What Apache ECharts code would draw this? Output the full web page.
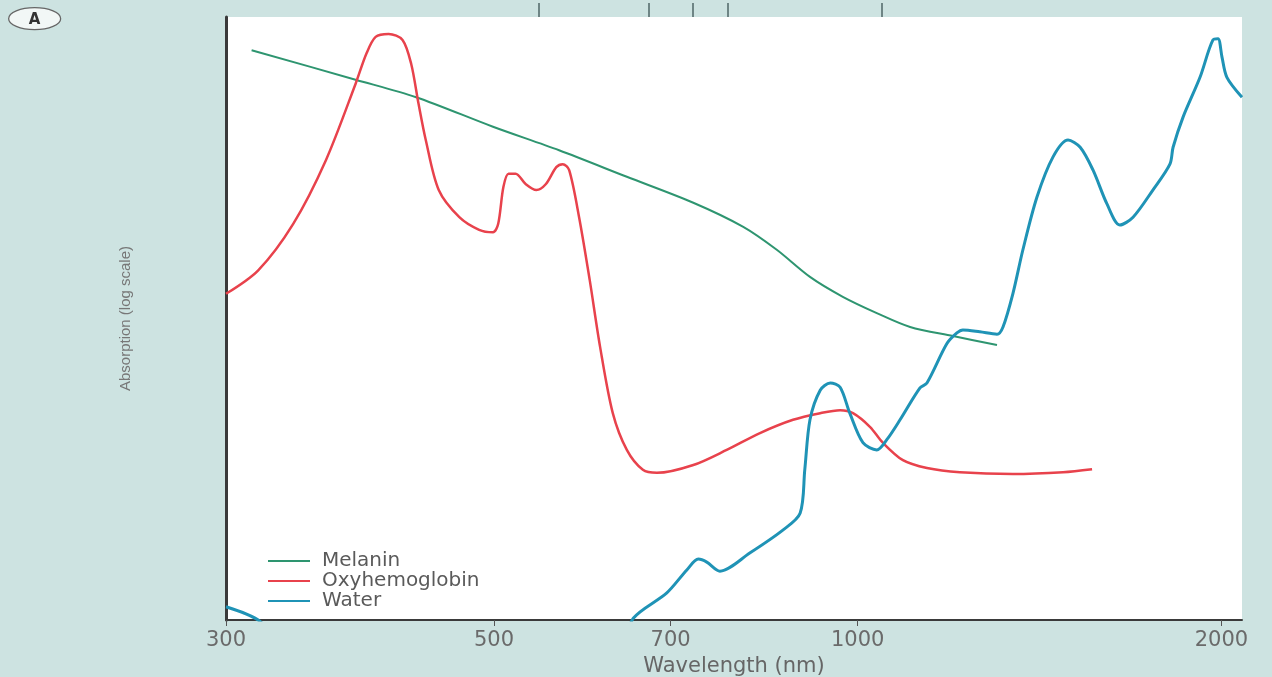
<!DOCTYPE html>
<html>
<head>
<meta charset="utf-8">
<script src="https://cdn.jsdelivr.net/npm/echarts@6.0.0/dist/echarts.min.js"></script>
<style>
  html, body { margin: 0; padding: 0; background: #cde3e1; }
  #chart { width: 1272px; height: 677px; }
</style>
</head>
<body>
<div id="chart"></div>
<script>
// wavelength (nm) tick labels on the bottom axis
var xTicks = [300, 500, 700, 1000, 2000];
// short marks along the top edge
var topMarks = [544, 672, 730, 781, 1047];

// absorption, relative units on a log scale (0 = bottom, 100 = top)
var melaninNm = [315, 384, 431, 499, 566, 644, 731, 804, 857, 913, 972, 1037, 1105, 1199, 1304];
var melaninAbs = [94.5, 89.6, 86.7, 81.8, 77.9, 73.5, 69.2, 65.2, 61.4, 56.9, 53.6, 50.9, 48.6, 47.1, 45.6];

var hemoNm = [300, 319, 341, 363, 384, 392, 399, 409, 420, 427, 433, 439, 450, 468, 486, 499, 504, 509,
  514, 521, 531, 542, 552, 563, 570, 577, 588, 600, 612, 627, 644, 664, 682, 731, 779, 830, 884, 931,
  967, 991, 1024, 1049, 1090, 1141, 1215, 1344, 1479, 1563];
var hemoAbs = [54.1, 58.0, 65.7, 76.3, 88.9, 93.9, 96.7, 97.2, 96.2, 92.2, 85.6, 79.6, 71.3, 66.8, 64.7, 64.3, 65.7, 71.8,
  74.0, 74.0, 72.3, 71.3, 72.3, 75.1, 75.6, 74.6, 66.8, 56.4, 45.3, 34.3, 28.2, 24.9, 24.4, 25.7, 28.2, 31.0, 33.2, 34.3,
  34.8, 34.3, 32.0, 29.4, 26.5, 25.2, 24.5, 24.2, 24.5, 25.0];

var waterNm = [300, 320, 340, 630, 652, 695, 722, 738, 750, 769, 814, 867, 896, 904, 913, 931, 949, 967, 985,
  1010, 1037, 1057, 1084, 1126, 1141, 1185, 1208, 1222, 1262, 1304, 1319, 1344, 1370, 1407, 1451, 1493, 1528,
  1566, 1608, 1648, 1690, 1755, 1813, 1824, 1859, 1920, 1968, 1987, 2002, 2021, 2080];
var waterAbs = [2.2, -0.2, -6, -6, 0.3, 4.5, 8.3, 10.1, 9.6, 8.1, 11.1, 14.9, 17.7, 24.9, 33.2, 38.1, 39.3, 38.6, 34.3,
  29.4, 28.2, 29.9, 33.2, 38.5, 39.3, 45.8, 47.6, 48.1, 47.8, 47.4, 48.6, 54.1, 61.4, 70.1, 76.8, 79.6, 78.4,
  74.6, 69.0, 65.5, 66.8, 71.3, 75.6, 78.4, 83.4, 90.0, 96.2, 96.4, 93.4, 90.0, 86.7];

function pairs(xs, ys) {
  return xs.map(function (x, i) { return [x, ys[i]]; });
}

var myChart = echarts.init(document.getElementById('chart'));
var option = {
  animation: false,
  backgroundColor: '#cde3e1',
  grid: {
    left: 226, right: 30, top: 17, bottom: 57,
    outerBoundsMode: 'none',
    show: true, backgroundColor: '#ffffff', borderWidth: 0
  },
  legend: {
    orient: 'vertical',
    left: 268,
    top: 551,
    padding: 0,
    icon: 'rect',
    itemWidth: 42,
    itemHeight: 2,
    itemGap: 0,
    textStyle: {
      color: '#5a5a5a',
      fontSize: 20,
      fontFamily: 'DejaVu Sans',
      lineHeight: 20,
      padding: [0, 0, 0, 7]
    }
  },
  xAxis: [{
    type: 'log',
    logBase: 10,
    min: 300,
    max: 2080,
    position: 'bottom',
    name: 'Wavelength (nm)',
    nameLocation: 'middle',
    nameGap: 34,
    nameTextStyle: { color: '#666', fontSize: 21, fontFamily: 'DejaVu Sans' },
    axisLine: { show: true, lineStyle: { color: '#3a3a3a', width: 2 } },
    axisTick: { show: true, customValues: xTicks, length: 6, lineStyle: { color: '#555' } },
    axisLabel: {
      customValues: xTicks,
      formatter: function (v) { return String(v); },
      color: '#6a6a6a', fontSize: 21, fontFamily: 'DejaVu Sans', margin: 10
    },
    splitLine: { show: false },
    minorTick: { show: false }
  }, {
    type: 'log',
    logBase: 10,
    min: 300,
    max: 2080,
    position: 'top',
    axisLine: { show: false },
    axisTick: { show: true, customValues: topMarks, length: 14, lineStyle: { color: '#6e8585', width: 2 } },
    axisLabel: { show: false },
    splitLine: { show: false }
  }],
  yAxis: {
    type: 'value',
    min: 0,
    max: 100,
    name: 'Absorption (log scale)',
    nameLocation: 'middle',
    nameGap: 93,
    nameTextStyle: { color: '#777', fontSize: 15, fontFamily: "'Liberation Sans Narrow', 'Liberation Sans', sans-serif" },
    axisLine: { show: true, lineStyle: { color: '#3a3a3a', width: 3 } },
    axisTick: { show: false },
    axisLabel: { show: false },
    splitLine: { show: false }
  },
  graphic: [{
    type: 'group',
    left: 8,
    top: 7,
    children: [{
      type: 'ellipse',
      shape: { cx: 27, cy: 11, rx: 26, ry: 11 },
      style: { fill: '#f2f7f6', stroke: '#666', lineWidth: 1.3 }
    }, {
      type: 'text',
      x: 27, y: 12,
      style: { text: 'A', fill: '#333', font: 'bold 15px DejaVu Sans', align: 'center', verticalAlign: 'middle' }
    }]
  }],
  series: [{
    name: 'Melanin',
    type: 'line',
    symbol: 'none',
    smooth: 0.3,
    data: pairs(melaninNm, melaninAbs),
    lineStyle: { color: '#2e9570', width: 2 },
    itemStyle: { color: '#2e9570' }
  }, {
    name: 'Oxyhemoglobin',
    type: 'line',
    symbol: 'none',
    smooth: 0.3,
    data: pairs(hemoNm, hemoAbs),
    lineStyle: { color: '#e8424c', width: 2.5 },
    itemStyle: { color: '#e8424c' }
  }, {
    name: 'Water',
    type: 'line',
    symbol: 'none',
    smooth: 0.3,
    data: pairs(waterNm, waterAbs),
    lineStyle: { color: '#1f93b6', width: 3 },
    itemStyle: { color: '#1f93b6' }
  }]
};
myChart.setOption(option);
</script>
</body>
</html>
